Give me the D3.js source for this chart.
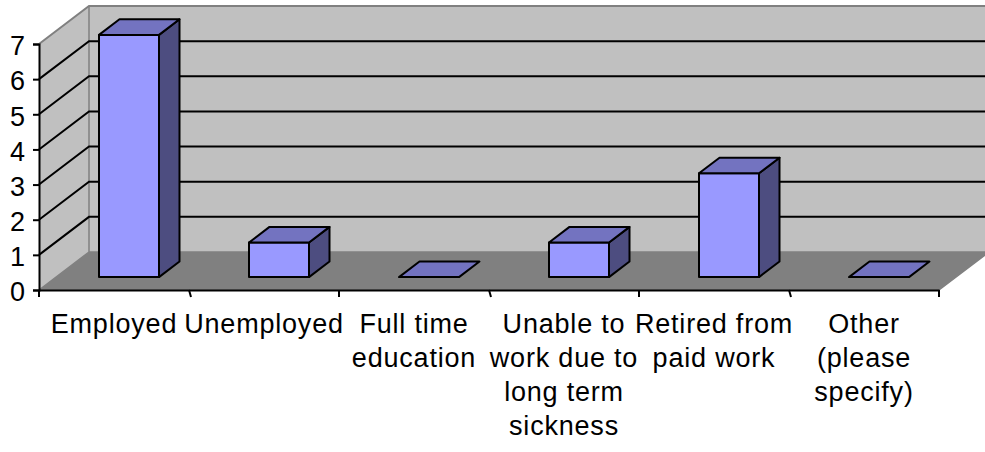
<!DOCTYPE html>
<html>
<head>
<meta charset="utf-8">
<script src="https://cdn.jsdelivr.net/npm/d3@7"></script>
<style>
  html, body { margin: 0; padding: 0; background: #fff; }
  svg { display: block; }
  text { font-family: "Liberation Sans", Arial, sans-serif; fill: #000; }
</style>
</head>
<body>
<svg id="chart" width="985" height="452"></svg>
<script>
// Employment status counts
const categories = ["Employed", "Unemployed", "Full time education",
  "Unable to work due to long term sickness", "Retired from paid work", "Other (please specify)"];
const categoryLines = [
  ["Employed"],
  ["Unemployed"],
  ["Full time", "education"],
  ["Unable to", "work due to", "long term", "sickness"],
  ["Retired from", "paid work"],
  ["Other", "(please", "specify)"]
];
const values = [7, 1, 0, 1, 3, 0];
const yTicks = [0, 1, 2, 3, 4, 5, 6, 7];

const svg = d3.select("#chart");

// front plane of the 3D box
const x = d3.scaleBand().domain(categories).range([39, 939]).paddingInner(0).paddingOuter(0);
const y = d3.scaleLinear().domain([0, 7]).range([290, 44]);
// bars sit a little deeper in the box, where the value scale is slightly compressed
const yBar = d3.scaleLinear().domain([0, 7]).range([290, 290 - 7 * 34.6]);

// depth of the box (back wall offset)
const DX = 50, DY = -38;
// bar placement in depth (fractions of the box depth)
const dFront = 0.34, dDepth = 0.41;
const barW = 60;

const pt = (px, py, f) => [px + DX * f, py + DY * f];
const line = d3.line();

const WALL = "#c0c0c0", FLOOR = "#808080", EDGE = "#808080";
const FRONT = "#9999ff", TOP = "#7373c0", SIDE = "#4d4d80";

const [xl, xr] = x.range();
const y0 = y(0), yTop = y(7);

// left side wall
svg.append("path")
  .attr("d", line([pt(xl, y0, 0), pt(xl, y0, 1), pt(xl, yTop, 1), pt(xl, yTop, 0)]) + "Z")
  .attr("fill", WALL).attr("stroke", "none");
// back wall
svg.append("path")
  .attr("d", line([pt(xl, y0, 1), pt(xr, y0, 1), pt(xr, yTop, 1), pt(xl, yTop, 1)]) + "Z")
  .attr("fill", WALL).attr("stroke", "none");
// floor
svg.append("path")
  .attr("d", line([pt(xl, y0, 0), pt(xr, y0, 0), pt(xr, y0, 1), pt(xl, y0, 1)]) + "Z")
  .attr("fill", FLOOR).attr("stroke", "none");

// wall edges
svg.append("path")
  .attr("d", line([pt(xl, yTop, 0), pt(xl, yTop, 1), pt(xr, yTop, 1)]))
  .attr("fill", "none").attr("stroke", EDGE).attr("stroke-width", 2);
svg.append("path")
  .attr("d", line([pt(xl, y0, 0), pt(xl, y0, 1), pt(xl, yTop, 1)]))
  .attr("fill", "none").attr("stroke", EDGE).attr("stroke-width", 1.5);
svg.append("path")
  .attr("d", line([pt(xl, y0, 1), pt(xr, y0, 1), pt(xr, y0, 0)]))
  .attr("fill", "none").attr("stroke", EDGE).attr("stroke-width", 1.5);

// gridlines on side and back walls
const grid = yTicks.filter(v => v > 0 && v < 7);
svg.append("g").selectAll("path").data(grid).join("path")
  .attr("d", v => line([pt(xl, y(v), 0), pt(xl, y(v), 1), pt(xr, y(v), 1)]))
  .attr("fill", "none").attr("stroke", "#000").attr("stroke-width", 2);

// value axis
const yAxis = svg.append("g").attr("transform", `translate(${xl},0)`)
  .call(d3.axisLeft(y).tickValues(yTicks).tickSize(6).tickPadding(8).tickFormat(d3.format("d")));
yAxis.select(".domain").attr("stroke", "#000").attr("stroke-width", 2);
yAxis.selectAll(".tick line").attr("stroke", "#000").attr("stroke-width", 2);
yAxis.selectAll(".tick text")
  .attr("font-size", 27).attr("dy", "0.4em")
  .style("font-family", '"Liberation Sans", Arial, sans-serif');

// category axis along the floor front edge
const xAxis = svg.append("g").attr("transform", `translate(0,${y0})`)
  .call(d3.axisBottom(x).tickSize(0).tickFormat(""));
xAxis.select(".domain").attr("stroke", "#000").attr("stroke-width", 2);
const bounds = categories.map(c => x(c)).concat([xr]);
svg.append("g").selectAll("line").data(bounds).join("line")
  .attr("x1", d => d).attr("x2", (d, i) => d + (i % 2 === 1 ? 2 : 0))
  .attr("y1", y0).attr("y2", y0 + 7)
  .attr("stroke", "#000").attr("stroke-width", 2);

// bars
const bars = svg.append("g").selectAll("g").data(categories).join("g");
bars.each(function (c, i) {
  const g = d3.select(this);
  const v = values[i];
  const bx = x(c) + (x.bandwidth() - barW) / 2 - 2;
  const b0 = yBar(0), b1 = yBar(v);
  const f0 = dFront, f1 = dFront + dDepth;
  if (v > 0) {
    // front face
    g.append("path")
      .attr("d", line([pt(bx, b0, f0), pt(bx + barW, b0, f0), pt(bx + barW, b1, f0), pt(bx, b1, f0)]) + "Z")
      .attr("fill", FRONT).attr("stroke", "#000").attr("stroke-width", 2).attr("stroke-linejoin", "round");
    // right side face
    g.append("path")
      .attr("d", line([pt(bx + barW, b0, f0), pt(bx + barW, b0, f1), pt(bx + barW, b1, f1), pt(bx + barW, b1, f0)]) + "Z")
      .attr("fill", SIDE).attr("stroke", "#000").attr("stroke-width", 2).attr("stroke-linejoin", "round");
  }
  // top face
  g.append("path")
    .attr("d", line([pt(bx, b1, f0), pt(bx + barW, b1, f0), pt(bx + barW, b1, f1), pt(bx, b1, f1)]) + "Z")
    .attr("fill", TOP).attr("stroke", "#000").attr("stroke-width", 2).attr("stroke-linejoin", "round");
});

// category labels
const labels = svg.append("g").selectAll("text").data(categories).join("text")
  .attr("text-anchor", "middle")
  .attr("font-size", 27)
  .attr("letter-spacing", 0.8)
  .attr("x", c => x(c) + x.bandwidth() / 2)
  .attr("y", 333);
labels.each(function (c, i) {
  d3.select(this).selectAll("tspan").data(categoryLines[i]).join("tspan")
    .attr("x", x(c) + x.bandwidth() / 2)
    .attr("dy", (d, j) => j === 0 ? 0 : 34)
    .text(d => d);
});
</script>
</body>
</html>
